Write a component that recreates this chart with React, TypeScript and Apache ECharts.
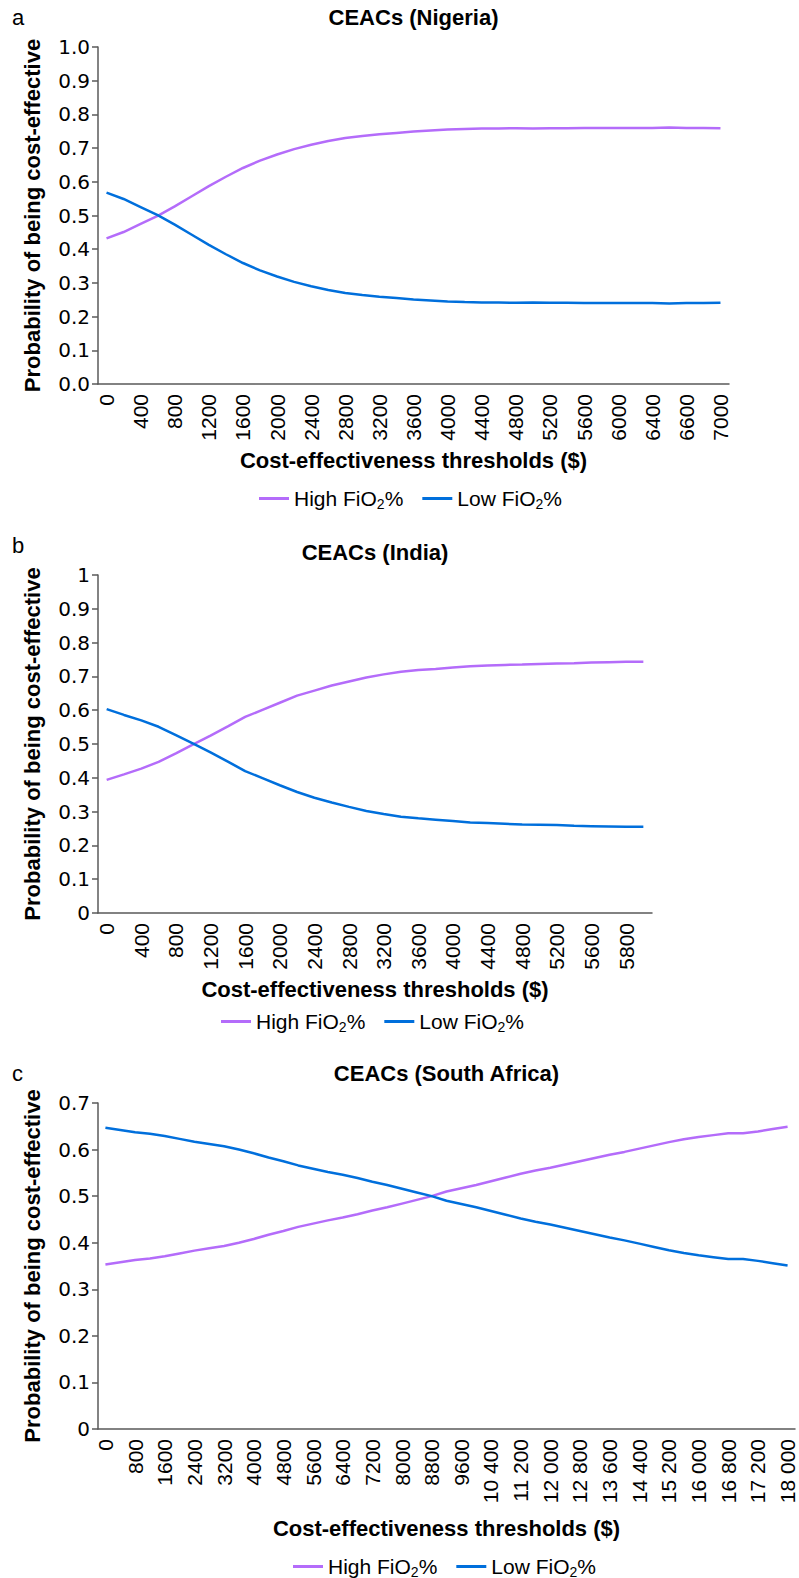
import React, { useEffect, useRef } from "react";
import * as echarts from "echarts";

const FONT = "'Liberation Sans', Arial, Helvetica, sans-serif";
const WIDE_FONT = "'DejaVu Sans', Verdana, sans-serif";
const PURPLE = "#b46cfa";
const BLUE = "#006fdc";
const AXIS = "#5a5a5a";

// ---- Panel a: Nigeria ----
const nigeriaThresholds = [
  0, 200, 400, 600, 800, 1000, 1200, 1400, 1600, 1800, 2000, 2200, 2400, 2600, 2800, 3000, 3200,
  3400, 3600, 3800, 4000, 4200, 4400, 4600, 4800, 5000, 5200, 5400, 5600, 5800, 6000, 6200, 6400,
  6500, 6600, 6800, 7000,
];
const nigeriaHigh = [
  0.432, 0.451, 0.475, 0.499, 0.527, 0.557, 0.587, 0.615, 0.641, 0.663, 0.681, 0.697, 0.71, 0.721,
  0.73, 0.736, 0.741, 0.745, 0.749, 0.752, 0.755, 0.757, 0.758, 0.758, 0.759, 0.758, 0.759, 0.759,
  0.76, 0.76, 0.76, 0.76, 0.76, 0.761, 0.76, 0.76, 0.759,
];
const nigeriaLow = [
  0.568, 0.549, 0.525, 0.501, 0.473, 0.443, 0.413, 0.385, 0.359, 0.337, 0.319, 0.303, 0.29, 0.279,
  0.27, 0.264, 0.259, 0.255, 0.251, 0.248, 0.245, 0.243, 0.242, 0.242, 0.241, 0.242, 0.241, 0.241,
  0.24, 0.24, 0.24, 0.24, 0.24, 0.239, 0.24, 0.24, 0.241,
];

// ---- Panel b: India ----
const indiaThresholds = [
  0, 200, 400, 600, 800, 1000, 1200, 1400, 1600, 1800, 2000, 2200, 2400, 2600, 2800, 3000, 3200,
  3400, 3600, 3800, 4000, 4200, 4400, 4600, 4800, 5000, 5200, 5400, 5600, 5700, 5800, 5900,
];
const indiaHigh = [
  0.394, 0.41, 0.427, 0.447, 0.472, 0.499, 0.525, 0.552, 0.58, 0.601, 0.622, 0.643, 0.658, 0.673,
  0.685, 0.697, 0.706, 0.714, 0.719, 0.722, 0.726, 0.73, 0.732, 0.734, 0.735, 0.737, 0.738, 0.739,
  0.741, 0.742, 0.743, 0.743,
];
const indiaLow = [
  0.603, 0.586, 0.57, 0.551, 0.526, 0.501, 0.475, 0.448, 0.42, 0.399, 0.378, 0.358, 0.341, 0.327,
  0.314, 0.302, 0.293, 0.285, 0.28, 0.276, 0.272, 0.268, 0.266, 0.264, 0.262, 0.261, 0.26, 0.258,
  0.257, 0.256, 0.255, 0.255,
];

// ---- Panel c: South Africa ----
const saThresholds = [
  0, 400, 800, 1200, 1600, 2000, 2400, 2800, 3200, 3600, 4000, 4400, 4800, 5200, 5600, 6000, 6400,
  6800, 7200, 7600, 8000, 8400, 8800, 9200, 9600, 10000, 10400, 10800, 11200, 11600, 12000, 12400,
  12800, 13200, 13600, 14000, 14400, 14800, 15200, 15600, 16000, 16400, 16800, 17000, 17200, 17600,
  18000,
];
const saHigh = [
  0.353, 0.358, 0.363, 0.366, 0.371, 0.377, 0.383, 0.388, 0.393, 0.4, 0.408, 0.417, 0.425, 0.434,
  0.441, 0.448, 0.454, 0.461, 0.469, 0.476, 0.484, 0.492, 0.5, 0.51, 0.517, 0.524, 0.532, 0.54,
  0.548, 0.555, 0.561, 0.568, 0.575, 0.582, 0.589, 0.595, 0.602, 0.609, 0.616, 0.622, 0.627, 0.631,
  0.635, 0.635, 0.639, 0.644, 0.649,
];
const saLow = [
  0.647, 0.642, 0.637, 0.634, 0.629, 0.623, 0.617, 0.612, 0.607, 0.6, 0.592, 0.583, 0.575, 0.566,
  0.559, 0.552, 0.546, 0.539, 0.531, 0.524, 0.516, 0.508, 0.5, 0.49, 0.483, 0.476, 0.468, 0.46,
  0.452, 0.445, 0.439, 0.432, 0.425, 0.418, 0.411, 0.405, 0.398, 0.391, 0.384, 0.378, 0.373, 0.369,
  0.365, 0.365, 0.361, 0.356, 0.351,
];

const panelTitles = ["CEACs (Nigeria)", "CEACs (India)", "CEACs (South Africa)"];
const panelLetters = ["a", "b", "c"];
const xAxisTitle = "Cost-effectiveness thresholds ($)";
const yAxisTitle = "Probability of being cost-effective";

function fmtThousands(v: string | number) {
  const n = Number(v);
  if (n >= 10000) {
    return `${Math.floor(n / 1000)} ${String(n % 1000).padStart(3, "0")}`;
  }
  return String(n);
}

export default function App() {
  const ref = useRef<HTMLDivElement>(null);

  useEffect(() => {
    document.body.style.margin = "0";
    if (!ref.current) return;
    const chart = echarts.init(ref.current, undefined, { renderer: "svg" });

    const grids = [
      { left: 98, top: 47, width: 631, height: 337 },
      { left: 98, top: 575, width: 554, height: 338 },
      { left: 98, top: 1103, width: 697, height: 326 },
    ];
    const plotCenters = grids.map((g) => g.left + g.width / 2);
    const titleY = [17, 552, 1073];
    const letterY = [17, 545, 1073];
    const xNameGaps = [76, 76, 99];
    const legendLefts = [254, 216, 288];
    const legendTops = [483, 1006, 1551];
    const yMax = [1, 1, 0.7];
    const cats = [nigeriaThresholds, indiaThresholds, saThresholds];
    const highs = [nigeriaHigh, indiaHigh, saHigh];
    const lows = [nigeriaLow, indiaLow, saLow];

    const axisLineStyle = { color: AXIS, width: 1.5 };

    const xAxis = cats.map((c, i) => ({
      type: "category",
      gridIndex: i,
      data: c.map(String),
      boundaryGap: true,
      axisLine: { show: true, lineStyle: axisLineStyle },
      axisTick: { show: false },
      axisLabel: {
        rotate: 90,
        interval: 1,
        fontSize: 21,
        color: "#000",
        fontFamily: FONT,
        margin: 10,
        formatter: i === 2 ? fmtThousands : undefined,
      },
      splitLine: { show: false },
      name: xAxisTitle,
      nameLocation: "middle",
      nameGap: xNameGaps[i],
      nameMoveOverlap: false,
      nameTextStyle: {
        fontSize: 22,
        fontWeight: "bold",
        color: "#000",
        fontFamily: FONT,
        verticalAlign: "middle",
      },
    }));

    const yAxis = yMax.map((m, i) => ({
      type: "value",
      gridIndex: i,
      min: 0,
      max: m,
      interval: 0.1,
      axisLine: { show: true, lineStyle: axisLineStyle },
      axisTick: { show: true, length: 6, lineStyle: axisLineStyle },
      splitLine: { show: false },
      axisLabel: {
        fontSize: 20,
        color: "#000",
        fontFamily: WIDE_FONT,
        margin: 8,
        formatter:
          i === 0 ? (v: number) => v.toFixed(1) : (v: number) => String(Math.round(v * 10) / 10),
      },
      name: yAxisTitle,
      nameLocation: "middle",
      nameGap: 66,
      nameMoveOverlap: false,
      nameTextStyle: {
        fontSize: 22,
        fontWeight: "bold",
        color: "#000",
        fontFamily: FONT,
        verticalAlign: "middle",
      },
    }));

    const series: any[] = [];
    const legends: any[] = [];
    for (let i = 0; i < 3; i++) {
      const hName = `High FiO2% ${panelLetters[i]}`;
      const lName = `Low FiO2% ${panelLetters[i]}`;
      series.push({
        type: "line",
        name: hName,
        xAxisIndex: i,
        yAxisIndex: i,
        data: highs[i],
        symbol: "none",
        lineStyle: { color: PURPLE, width: 2.5 },
        itemStyle: { color: PURPLE },
      });
      series.push({
        type: "line",
        name: lName,
        xAxisIndex: i,
        yAxisIndex: i,
        data: lows[i],
        symbol: "none",
        lineStyle: { color: BLUE, width: 2.5 },
        itemStyle: { color: BLUE },
      });
      legends.push({
        data: [hName, lName],
        left: legendLefts[i],
        top: legendTops[i],
        orient: "horizontal",
        icon: "rect",
        itemWidth: 30,
        itemHeight: 3,
        itemGap: 19,
        selectedMode: false,
        formatter: (name: string) =>
          name.startsWith("High") ? "High FiO{s|2}%" : "Low FiO{s|2}%",
        textStyle: {
          fontSize: 21,
          color: "#000",
          fontFamily: FONT,
          rich: {
            s: { fontSize: 14, color: "#000", fontFamily: FONT, padding: [10, 0, 0, 0] },
          },
        },
      });
    }

    const graphic: any[] = [];
    for (let i = 0; i < 3; i++) {
      graphic.push({
        type: "text",
        x: plotCenters[i],
        y: titleY[i],
        style: {
          text: panelTitles[i],
          fontSize: 22,
          fontWeight: "bold",
          fontFamily: FONT,
          fill: "#000",
          align: "center",
          verticalAlign: "middle",
        },
      });
      graphic.push({
        type: "text",
        x: 12,
        y: letterY[i],
        style: {
          text: panelLetters[i],
          fontSize: 22,
          fontFamily: FONT,
          fill: "#000",
          align: "left",
          verticalAlign: "middle",
        },
      });
    }

    chart.setOption({
      animation: false,
      backgroundColor: "#fff",
      grid: grids,
      xAxis,
      yAxis,
      series,
      legend: legends,
      graphic,
    });

    return () => chart.dispose();
  }, []);

  return <div ref={ref} style={{ width: 799, height: 1578 }} />;
}
